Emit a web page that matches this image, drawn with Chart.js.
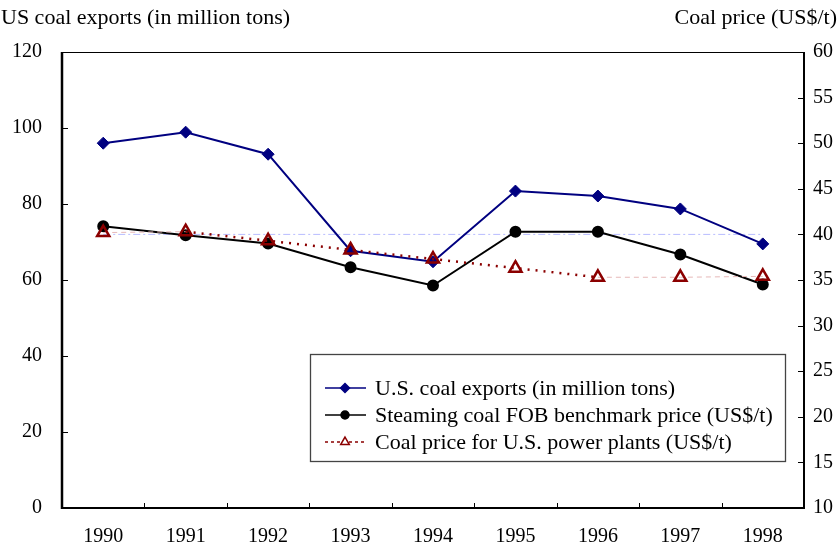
<!DOCTYPE html>
<html>
<head>
<meta charset="utf-8">
<script src="https://cdn.jsdelivr.net/npm/chart.js@4.4.1/dist/chart.umd.min.js"></script>
<style>
  html, body { margin: 0; padding: 0; background: #fff; }
  #wrap { width: 839px; height: 548px; position: relative; }
</style>
</head>
<body>
<div id="wrap"><canvas id="coalChart"></canvas></div>
<script>
const years = ['1990', '1991', '1992', '1993', '1994', '1995', '1996', '1997', '1998'];
const coalExports = [96.0, 98.9, 93.1, 67.7, 64.8, 83.4, 82.1, 78.7, 69.5];   // million tons, left axis
const fobPrice = [40.9, 39.9, 39.0, 36.4, 34.4, 40.3, 40.3, 37.8, 34.5];      // US$/t, right axis
const powerPlantPrice = [40.2, 40.3, 39.3, 38.3, 37.3, 36.3, 35.3, 35.3, 35.4]; // US$/t, right axis
const refLine = [40, 40, 40, 40, 40, 40, 40, 40, 40];                         // faint guide at 40
const leftTicks = [0, 20, 40, 60, 80, 100, 120];
const rightTicks = [10, 15, 20, 25, 30, 35, 40, 45, 50, 55, 60];

const FONT = 'Liberation Serif';
const NAVY = '#000080';
const DARKRED = '#8b0000';

// frame, inward tick marks, axis titles and legend box
const decorations = {
  id: 'decorations',
  afterDraw(chart) {
    const ctx = chart.ctx;
    const a = chart.chartArea;
    const xs = chart.scales.x, y = chart.scales.y, y1 = chart.scales.y1;
    ctx.save();
    ctx.strokeStyle = '#000';

    // ticks
    ctx.lineWidth = 1;
    ctx.beginPath();
    leftTicks.forEach(v => { const p = Math.round(y.getPixelForValue(v)) + 0.5; ctx.moveTo(a.left, p); ctx.lineTo(a.left + 6, p); });
    rightTicks.forEach(v => { const p = Math.round(y1.getPixelForValue(v)) + 0.5; ctx.moveTo(a.right, p); ctx.lineTo(a.right - 6, p); });
    for (let i = 1; i < years.length; i++) {
      const p = Math.round((xs.getPixelForValue(i - 1) + xs.getPixelForValue(i)) / 2) + 0.5;
      ctx.moveTo(p, a.bottom); ctx.lineTo(p, a.bottom - 5);
    }
    ctx.stroke();

    // frame
    ctx.lineWidth = 1.2;
    ctx.beginPath(); ctx.moveTo(a.left, a.top + 0.5); ctx.lineTo(a.right, a.top + 0.5); ctx.stroke();
    ctx.lineWidth = 2;
    ctx.beginPath(); ctx.moveTo(a.right, a.top); ctx.lineTo(a.right, a.bottom); ctx.stroke();
    ctx.beginPath(); ctx.moveTo(a.left, a.bottom); ctx.lineTo(a.right + 1, a.bottom); ctx.stroke();
    ctx.lineWidth = 2.5;
    ctx.beginPath(); ctx.moveTo(a.left, a.top); ctx.lineTo(a.left, a.bottom + 1); ctx.stroke();

    // axis titles
    ctx.fillStyle = '#000';
    ctx.font = '22px "' + FONT + '"';
    ctx.textBaseline = 'middle';
    ctx.textAlign = 'left';
    ctx.fillText('US coal exports (in million tons)', 1, 18);
    ctx.textAlign = 'right';
    ctx.fillText('Coal price (US$/t)', 837, 18);

    // legend
    const bx = 310, by = 354, bw = 475, bh = 107;
    ctx.fillStyle = '#fff';
    ctx.fillRect(bx, by, bw, bh);
    ctx.strokeStyle = '#444';
    ctx.lineWidth = 1.3;
    ctx.strokeRect(bx + 0.5, by + 0.5, bw, bh);
    const rows = [388, 415, 442];
    const items = [
      { ds: chart.data.datasets[0], dash: [], color: NAVY, style: 'rectRot', r: 4.5, fill: NAVY },
      { ds: chart.data.datasets[1], dash: [], color: '#000', style: 'circle', r: 4, fill: '#000' },
      { ds: chart.data.datasets[2], dash: [3, 3], color: DARKRED, style: 'triangle', r: 5, fill: '#fff' }
    ];
    items.forEach((it, i) => {
      const yy = rows[i];
      ctx.save();
      ctx.strokeStyle = it.color;
      ctx.lineWidth = 1.5;
      ctx.setLineDash(it.dash);
      ctx.beginPath(); ctx.moveTo(325, yy); ctx.lineTo(366, yy); ctx.stroke();
      ctx.setLineDash([]);
      ctx.fillStyle = it.fill;
      ctx.lineWidth = 1.5;
      Chart.helpers.drawPoint(ctx, { pointStyle: it.style, radius: it.r, rotation: 0, borderWidth: 1.5 }, 345, yy);
      ctx.restore();
      ctx.fillStyle = '#000';
      ctx.textAlign = 'left';
      ctx.textBaseline = 'middle';
      ctx.font = '22px "' + FONT + '"';
      ctx.fillText(it.ds.label, 375, yy + 1);
    });
    ctx.restore();
  }
};

const darkSeg = ctx => (ctx.p0DataIndex >= 1 && ctx.p0DataIndex <= 5);

new Chart(document.getElementById('coalChart').getContext('2d'), {
  type: 'line',
  data: {
    labels: years,
    datasets: [
      {
        label: 'U.S. coal exports (in million tons)',
        data: coalExports,
        yAxisID: 'y',
        borderColor: NAVY,
        backgroundColor: NAVY,
        borderWidth: 2,
        pointStyle: 'rectRot',
        pointRadius: 6,
        pointBorderWidth: 1,
        tension: 0,
        order: 2
      },
      {
        label: 'Steaming coal FOB benchmark price (US$/t)',
        data: fobPrice,
        yAxisID: 'y1',
        borderColor: '#000',
        backgroundColor: '#000',
        borderWidth: 2,
        pointStyle: 'circle',
        pointRadius: 5,
        tension: 0,
        order: 3
      },
      {
        label: 'Coal price for U.S. power plants (US$/t)',
        data: powerPlantPrice,
        yAxisID: 'y1',
        borderColor: DARKRED,
        backgroundColor: 'rgba(0,0,0,0)',
        pointBorderColor: DARKRED,
        pointBackgroundColor: 'rgba(0,0,0,0)',
        borderWidth: 2.5,
        pointStyle: 'triangle',
        pointRadius: 7,
        pointBorderWidth: 2.5,
        tension: 0,
        segment: {
          borderColor: ctx => darkSeg(ctx) ? DARKRED : '#e6b8b8',
          borderDash: ctx => darkSeg(ctx) ? [2, 6] : [5, 4],
          borderWidth: ctx => darkSeg(ctx) ? 2.5 : 1
        },
        order: 1
      },
      {
        label: 'guide',
        data: refLine,
        yAxisID: 'y1',
        borderColor: '#b8bcff',
        borderWidth: 1,
        borderDash: [7, 3, 2, 3],
        pointRadius: 0,
        tension: 0,
        order: 4
      }
    ]
  },
  options: {
    responsive: true,
    maintainAspectRatio: false,
    animation: false,
    layout: { padding: { top: 52, left: 0, right: 0, bottom: 0 } },
    scales: {
      x: {
        offset: true,
        grid: { display: false, drawTicks: false },
        border: { display: false },
        ticks: { color: '#000', font: { family: FONT, size: 20 }, padding: 17, maxRotation: 0 },
        afterFit: s => { s.height = 40; }
      },
      y: {
        position: 'left',
        min: 0, max: 120,
        grid: { display: false, drawTicks: false },
        border: { display: false },
        ticks: { stepSize: 20, color: '#000', font: { family: FONT, size: 20 }, padding: 20 },
        afterFit: s => { s.width = 62; }
      },
      y1: {
        position: 'right',
        min: 10, max: 60,
        grid: { display: false, drawTicks: false },
        border: { display: false },
        ticks: { stepSize: 5, color: '#000', font: { family: FONT, size: 20 }, padding: 9 },
        afterFit: s => { s.width = 35; }
      }
    },
    plugins: {
      legend: { display: false },
      tooltip: { enabled: false }
    }
  },
  plugins: [decorations]
});
</script>
</body>
</html>
